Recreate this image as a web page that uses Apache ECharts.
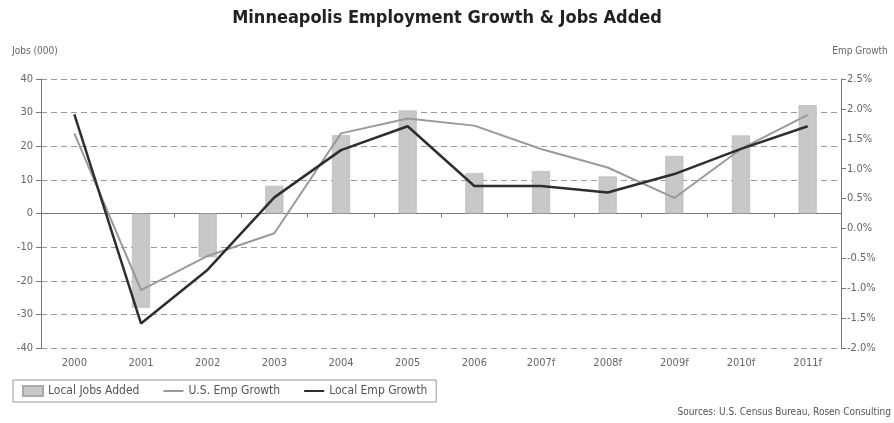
<!DOCTYPE html>
<html>
<head>
<meta charset="utf-8">
<script src="https://cdn.jsdelivr.net/npm/echarts@6/dist/echarts.min.js"></script>
<style>
    html, body { margin: 0; padding: 0; background: #fff; }
    #container { width: 894px; height: 423px; }
</style>
</head>
<body>
<div id="container"></div>
<script>
const years = ['2000', '2001', '2002', '2003', '2004', '2005', '2006', '2007f', '2008f', '2009f', '2010f', '2011f']
// jobs added (000)
const localJobs = [null, -28, -13, 8.2, 23.3, 30.6, 12.0, 12.6, 11.0, 17.1, 23.2, 32.2]
// employment growth (%)
const usGrowth = [1.59, -1.03, -0.46, -0.08, 1.59, 1.84, 1.72, 1.33, 1.02, 0.51, 1.33, 1.90]
const localGrowth = [1.91, -1.59, -0.69, 0.52, 1.31, 1.71, 0.71, 0.71, 0.60, 0.91, 1.33, 1.71]

const font = "'Liberation Sans Narrow', 'DejaVu Sans Condensed', sans-serif"
const axisGray = '#777'
const labelGray = '#666'
const lineIcon = 'path://M0,0 L20,0 L20,2 L0,2 Z'

let options = {
    textStyle: { fontFamily: font },
    title: {
        text: 'Minneapolis Employment Growth & Jobs Added',
        left: 'center',
        top: 4,
        textStyle: {
            fontFamily: font,
            fontSize: 18,
            fontWeight: 'bold',
            color: '#222'
        }
    },
    legend: {
        left: 13,
        top: 380,
        padding: [5, 9],
        itemGap: 24,
        itemWidth: 20,
        itemHeight: 10,
        borderColor: '#999',
        borderWidth: 1,
        textStyle: { fontFamily: font, fontSize: 12, color: '#555' },
        data: [
            { name: 'Local Jobs Added', icon: 'rect' },
            { name: 'U.S. Emp Growth', icon: lineIcon },
            { name: 'Local Emp Growth', icon: lineIcon }
        ]
    },
    graphic: {
        elements: [
            {
                type: 'text',
                right: 3,
                top: 407,
                style: {
                    text: 'Sources: U.S. Census Bureau, Rosen Consulting',
                    font: '10px ' + font,
                    fill: '#555'
                }
            }
        ]
    },
    grid: {
        left: 41,
        right: 53,
        top: 79,
        bottom: 75,
        containLabel: false,
        outerBoundsMode: 'none'
    },
    xAxis: [
        {
            type: 'category',
            data: years,
            position: 'bottom',
            axisLine: { show: false },
            axisTick: { show: false },
            axisLabel: { color: labelGray, fontSize: 11, margin: 10, interval: 0 }
        },
        {
            type: 'category',
            data: years,
            position: 'bottom',
            axisLine: { show: true, onZero: true, onZeroAxisIndex: 0, lineStyle: { color: axisGray, width: 1 } },
            axisTick: { show: true, length: 4, lineStyle: { color: axisGray } },
            axisLabel: { show: false }
        }
    ],
    yAxis: [
        {
            type: 'value',
            name: 'Jobs (000)',
            nameLocation: 'end',
            nameGap: 23,
            nameTextStyle: { color: labelGray, fontSize: 10, padding: [0, 12, 0, 0] },
            min: -40,
            max: 40,
            interval: 10,
            axisLine: { show: true, lineStyle: { color: axisGray } },
            axisTick: { show: true, length: 5, lineStyle: { color: axisGray } },
            axisLabel: { color: labelGray, fontSize: 11, margin: 8 },
            splitLine: { show: true, lineStyle: { color: '#999', type: [6, 4] } }
        },
        {
            type: 'value',
            name: 'Emp Growth',
            nameLocation: 'end',
            nameGap: 23,
            nameTextStyle: { color: labelGray, fontSize: 10, padding: [0, 0, 0, 38] },
            min: -2.0,
            max: 2.5,
            interval: 0.5,
            axisLine: { show: true, lineStyle: { color: axisGray } },
            axisTick: { show: true, length: 5, lineStyle: { color: axisGray } },
            axisLabel: {
                color: labelGray,
                fontSize: 11,
                margin: 6,
                formatter: v => v.toFixed(1) + '%'
            },
            splitLine: { show: false }
        }
    ],
    series: [
        {
            name: 'Local Jobs Added',
            type: 'bar',
            xAxisIndex: 0,
            yAxisIndex: 0,
            barWidth: 18,
            data: localJobs,
            itemStyle: { color: '#c8c8c8', borderColor: '#aaa', borderWidth: 0.5 }
        },
        {
            name: 'U.S. Emp Growth',
            type: 'line',
            xAxisIndex: 0,
            yAxisIndex: 1,
            symbol: 'none',
            data: usGrowth,
            lineStyle: { color: '#9a9a9a', width: 2 },
            itemStyle: { color: '#9a9a9a' }
        },
        {
            name: 'Local Emp Growth',
            type: 'line',
            xAxisIndex: 0,
            yAxisIndex: 1,
            symbol: 'none',
            data: localGrowth,
            lineStyle: { color: '#2e2e2e', width: 2.5 },
            itemStyle: { color: '#2e2e2e' }
        }
    ]
}

let mychart = echarts.init(document.getElementById('container'))
mychart.setOption(options)
</script>
</body>
</html>
